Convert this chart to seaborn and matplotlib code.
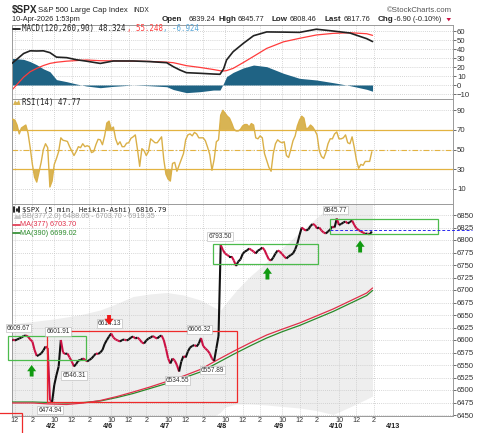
import matplotlib
matplotlib.use("Agg")
import matplotlib.pyplot as plt
import numpy as np
import seaborn as sns
from matplotlib.collections import LineCollection
from matplotlib.patches import Rectangle, Polygon
from matplotlib.lines import Line2D

days = ["4/1", "4/2", "4/6", "4/7", "4/8", "4/9", "4/10", "4/13"]
BARS = 78       # 5-min bars in one session
STEP = 3        # one sample = 3 bars (15 min)
first_slot = [8, 0, 0, 0, 0, 0, 0]   # 4/1 data starts 11:30

price_0401 = [6597, 6601, 6599, 6601, 6603, 6605, 6608, 6609, 6607, 6601, 6597, 6580,
              6568, 6570, 6573, 6579, 6587, 6584]
price_0402 = [6480, 6476, 6510, 6530, 6547, 6600, 6575, 6572, 6573, 6565, 6557, 6547, 6552,
              6559, 6560, 6563, 6561, 6557, 6560, 6563, 6568, 6573, 6572, 6575, 6580, 6592]
price_0406 = [6600, 6607, 6613, 6605, 6601, 6599, 6597, 6600, 6601, 6599, 6601, 6605, 6607,
              6603, 6605, 6601, 6595, 6593, 6599, 6603, 6605, 6608, 6605, 6603, 6607, 6609]
price_0407 = [6600, 6583, 6563, 6553, 6563, 6559, 6550, 6537, 6557, 6568, 6565, 6577, 6585,
              6588, 6590, 6587, 6593, 6604, 6588, 6583, 6579, 6573, 6563, 6558, 6583, 6608]
price_0408 = [6790, 6780, 6773, 6770, 6767, 6767, 6759, 6748, 6757, 6761, 6772, 6777, 6779,
              6783, 6780, 6777, 6773, 6779, 6781, 6785, 6780, 6770, 6761, 6759, 6765, 6773]
price_0409 = [6779, 6777, 6772, 6767, 6763, 6767, 6770, 6773, 6781, 6793, 6810, 6825, 6821,
              6819, 6821, 6828, 6832, 6830, 6823, 6825, 6819, 6815, 6813, 6817, 6821, 6827]
price_0410 = [6825, 6843, 6830, 6832, 6835, 6837, 6833, 6836, 6839, 6830, 6823, 6820, 6817,
              6815, 6812, 6813, 6811, 6817]

rsi_0401 = [79, 81, 80, 75, 66, 72, 73.5, 75, 67, 52, 35, 22, 17, 27, 37, 50, 56, 52]
rsi_0402 = [12, 18, 35, 41, 48, 62, 59.5, 59, 58.3, 53, 48.5, 44, 48, 53, 52, 56, 53, 54, 53,
            47, 48, 55, 60.5, 60, 55, 64]
rsi_0406 = [77, 79, 71, 73, 61, 55, 58, 53, 53, 56.5, 57, 61.5, 63, 65, 50, 33, 51, 49, 44,
            48, 61, 59, 57, 57, 60, 63]
rsi_0407 = [40, 25, 20, 18, 36, 37, 28, 34, 40, 46, 60, 65, 66, 64, 67.5, 66, 62, 62, 62, 59,
            52.5, 45, 29, 40, 58, 60]
rsi_0408 = [85, 90, 87, 84, 82, 77, 71, 69, 69, 70.5, 74, 75.5, 75.5, 73, 76.5, 75, 62, 61,
            64, 62, 46, 39, 32, 28, 46, 56]
rsi_0409 = [60, 58, 57, 58, 44, 42, 50, 59, 64, 74, 80, 84, 82, 71, 72, 75, 73, 69.5, 65, 49,
            43, 41, 47, 56, 61, 61]
rsi_0410 = [66, 68, 61, 61, 62, 65, 57, 56, 63, 52, 39, 31, 35, 34, 38, 38, 38, 47.8]

# moving averages / bollinger band (bar number, value)
ma_bar = [25, 55, 78, 101, 124, 147, 170, 192, 215, 238, 261, 284, 306, 329, 352, 375, 397,
          420, 443, 466, 489, 512, 520]
ma_377 = [6474, 6474, 6472, 6471, 6474, 6479, 6487, 6496, 6506, 6517, 6528, 6541, 6559, 6577,
          6594, 6610, 6622, 6634, 6648, 6662, 6678, 6694, 6704]
ma_390 = [6476, 6476, 6475, 6474, 6475, 6478, 6485, 6493, 6503, 6513, 6524, 6536, 6553, 6571,
          6588, 6604, 6617, 6629, 6643, 6657, 6673, 6689, 6699]
bb_bar = [25, 55, 78, 101, 124, 147, 170, 192, 215, 238, 261, 284, 306, 312, 318, 334, 352,
          375, 397, 420, 443, 466, 489, 512, 520]
bb_upper = [6632, 6637, 6641, 6646, 6652, 6660, 6673, 6687, 6692, 6695, 6690, 6680, 6663, 6660,
            6672, 6700, 6727, 6756, 6785, 6815, 6844, 6873, 6895, 6914, 6919]
bb_lower = [6400, 6398, 6396, 6394, 6394, 6396, 6400, 6405, 6412, 6420, 6428, 6436, 6450, 6456,
            6466, 6472, 6472, 6470, 6467, 6464, 6459, 6451, 6466, 6482, 6488]

macd_bar = [26, 42, 51, 60, 69, 78, 87, 101, 115, 128, 147, 165, 192, 215, 238, 247, 256, 265,
            284, 302, 311, 316, 320, 329, 343, 357, 375, 398, 420, 443, 466, 489, 512, 520]
macd = [24, 35, 38, 37.8, 38, 36, 31, 30.4, 28, 26.5, 24, 26.7, 26.7, 26, 24.8, 20.4, 16.7,
        13.7, 13, 12.2, 11.9, 18, 27.8, 37, 46.3, 54.8, 59, 58.8, 58.5, 62, 60, 57.8, 51.5, 48.3]
signal = [-5.6, 8.7, 14.8, 18.5, 21.6, 24, 25.3, 26.5, 27.2, 27.8, 27, 26.8, 26.5, 26.2, 25.4,
          24.8, 23.2, 21.5, 19.5, 17.2, 15.9, 15.6, 16, 18.5, 25, 31.8, 40.7, 48, 51.9, 55.6,
          57.4, 58.1, 57, 55.2]
hist = [29.6, 28.5, 26, 22.5, 18, 14.8, 6, 3.7, 1, -1.1, -3, -1.5, 0, -0.8, -1.9, -5, -6.8,
        -8.5, -7.4, -5.6, -5.6, 2, 9.3, 14, 19, 22.2, 20.4, 13, 7.4, 5.6, 2.6, -0.7, -4.8, -6.9]

# annotations drawn on the chart
price_labels = ["6609.67", "6601.91", "6614.13", "6546.31", "6474.94", "6534.55", "6606.32",
                "6557.89", "6793.50", "6845.77"]
label_bar = [35, 89, 160, 111, 78, 253, 283, 301, 311, 469]
label_at = [6624, 6617, 6633, 6529, 6460, 6519, 6621, 6540, 6807, 6860]
green_boxes = [(21, 127.5, 6561, 6608), (302, 445.6, 6752, 6793), (461.7, 610, 6813, 6842)]
red_box = (73.6, 333.9, 6475.5, 6619)
up_arrows = [(53, 6527, 6550), (376, 6721, 6745), (503, 6775, 6799)]
down_arrow = (159, 6650, 6630)
level_line = (461.7, 656, 6821)

quote_labels = ["Open", "High", "Low", "Last", "Chg"]
quote_values = ["6839.24", "6845.77", "6808.46", "6817.76", "-6.90 (-0.10%)"]


def day_bars(day, n, first=0):
    return [BARS * day + STEP * (first + i) for i in range(n)]


price_days = [price_0401, price_0402, price_0406, price_0407, price_0408, price_0409, price_0410]
rsi_days = [rsi_0401, rsi_0402, rsi_0406, rsi_0407, rsi_0408, rsi_0409, rsi_0410]
px, pv, rv = [], [], []
for k, (p, r) in enumerate(zip(price_days, rsi_days)):
    px += day_bars(k, len(p), first_slot[k])
    pv += p
    rv += r
px, pv, rv = np.array(px, float), np.array(pv, float), np.array(rv, float)

# ---- figure ----
sns.set_style("white")
plt.rcParams["font.family"] = ["Liberation Sans", "DejaVu Sans"]
NARROW = ["Liberation Sans Narrow", "Liberation Sans", "DejaVu Sans"]
MONO = ["DejaVu Sans Mono", "DejaVu Sans"]

W, H = 480, 433
fig = plt.figure(figsize=(4.8, 4.33), dpi=100)


def fx(x):
    return x / W


def fy(y):
    return 1 - y / H


L, R = 11.5, 452.7
ax_macd = fig.add_axes([fx(L), fy(98.5), (R - L) / W, 73.5 / H])
ax_rsi = fig.add_axes([fx(L), fy(204), (R - L) / W, 105.5 / H])
ax = fig.add_axes([fx(L), fy(416), (R - L) / W, 212 / H])

XLIM = (25.4, 629.8)
tick_bars, tick_text = [], []
for k in range(7):
    for off, lab in [(6, "10"), (30, "12"), (54, "2")]:
        b = BARS * k + off
        if b > XLIM[0]:
            tick_bars.append(b)
            tick_text.append(lab)

for a in (ax_macd, ax_rsi, ax):
    a.set_xlim(*XLIM)
    a.set_xticks(tick_bars)
    a.set_xticklabels([])
    a.yaxis.tick_right()
    a.tick_params(axis="x", length=0)
    a.tick_params(axis="y", labelsize=5.6, length=2, width=0.5, pad=1, colors="#333333")
    a.set_axisbelow(True)
    a.grid(True, color="#c8c8c8", linewidth=0.6, linestyle=(0, (1, 1.5)))
    for s in a.spines.values():
        s.set_color("#9a9a9a")
        s.set_linewidth(0.7)
    a.set_facecolor("white")

# ---- MACD panel ----
ax_macd.fill_between(macd_bar, 0, hist, color="#1f6384", lw=0, zorder=1)
sns.lineplot(x=macd_bar, y=signal, color="#ff3b3b", linewidth=0.9, ax=ax_macd,
             estimator=None, sort=False, legend=False, zorder=2)
sns.lineplot(x=macd_bar, y=macd, color="#222222", linewidth=1.2, ax=ax_macd,
             estimator=None, sort=False, legend=False, zorder=3)
ax_macd.set_ylim(-15, 66.7)
ax_macd.set_yticks(range(-10, 61, 10))
ax_macd.set_xlabel("")
ax_macd.set_ylabel("")

fig.add_artist(Line2D([fx(13), fx(20)], [fy(29), fy(29)], color="black", lw=1.2))
fig.text(fx(22), fy(29), "MACD(120,260,90) 48.324", family=MONO, fontsize=5.45, va="center")
fig.text(fx(126.7), fy(29), ", 55.248", family=MONO, fontsize=5.45, va="center", color="#ff3b3b")
fig.text(fx(163.2), fy(29), ", -6.924", family=MONO, fontsize=5.45, va="center", color="#5aa8d8")

# ---- RSI panel ----
ax_rsi.fill_between(px, rv, 70, where=rv > 70, interpolate=True, color="#d8b454", lw=0, zorder=1)
ax_rsi.fill_between(px, rv, 30, where=rv < 30, interpolate=True, color="#d8b454", lw=0, zorder=1)
ax_rsi.axhline(70, color="#e3b341", lw=0.9, zorder=1.5)
ax_rsi.axhline(30, color="#e3b341", lw=0.9, zorder=1.5)
ax_rsi.axhline(50, color="#e3b341", lw=0.8, ls=(0, (5, 2, 1, 2)), zorder=1.5)
ax_rsi.plot(px, rv, color="#dab048", linewidth=1.0, zorder=4)
ax_rsi.set_ylim(-5.3, 102)
ax_rsi.set_yticks([10, 30, 50, 70, 90])

fig.add_artist(Polygon([(fx(13), fy(105)), (fx(15), fy(100.5)), (fx(17), fy(102.5)),
                        (fx(19), fy(100)), (fx(20.5), fy(105))], closed=True,
                       color="#d8b454", lw=0))
fig.text(fx(22), fy(102.5), "RSI(14) 47.77", family=MONO, fontsize=5.45, va="center")

# ---- price panel ----
ax.fill_between(bb_bar, bb_lower, bb_upper, color="#eeeeee", lw=0, zorder=0.2)
sns.lineplot(x=ma_bar, y=ma_390, color="#2a8a2a", linewidth=0.9, ax=ax,
             estimator=None, sort=False, legend=False, zorder=3)
sns.lineplot(x=ma_bar, y=ma_377, color="#e0304a", linewidth=0.9, ax=ax,
             estimator=None, sort=False, legend=False, zorder=3)

pts = np.column_stack([px, pv])
segs = np.stack([pts[:-1], pts[1:]], axis=1)
seg_col = ["#111111" if b >= a else "#cc1144" for a, b in zip(pv[:-1], pv[1:])]
ax.add_collection(LineCollection(segs, colors=seg_col, linewidths=1.5, zorder=5))

ax.set_ylim(6448, 6872)
ax.set_yticks(range(6450, 6851, 25))
ax.set_xlabel("")
ax.set_ylabel("")

for x0, x1, y0, y1 in green_boxes:
    ax.add_patch(Rectangle((x0, y0), x1 - x0, y1 - y0, fill=False, ec="#4cbb4c", lw=0.9,
                           zorder=6, clip_on=False))
x0, x1, y0, y1 = red_box
ax.add_patch(Rectangle((x0, y0), x1 - x0, y1 - y0, fill=False, ec="#ee2a2a", lw=0.9, zorder=6))
ax.plot([level_line[0], level_line[1]], [level_line[2]] * 2, color="#2a2aee", lw=0.7,
        ls=(0, (3, 2)), zorder=6, clip_on=False)

for text, b, v in zip(price_labels, label_bar, label_at):
    ax.text(b, v, text, family=NARROW, fontsize=4.7, ha="center", va="center", zorder=7,
            color="#333333",
            bbox=dict(boxstyle="square,pad=0.15", fc="white", ec="#b5b5b5", lw=0.4))

arrow_style = "simple,head_width=0.65,head_length=0.45,tail_width=0.28"
for b, tail, tip in up_arrows:
    ax.annotate("", xy=(b, tip), xytext=(b, tail), zorder=8,
                arrowprops=dict(arrowstyle=arrow_style, fc="#119a11", ec="none",
                                shrinkA=0, shrinkB=0))
b, tail, tip = down_arrow
ax.annotate("", xy=(b, tip), xytext=(b, tail), zorder=8,
            arrowprops=dict(arrowstyle=arrow_style, fc="#ee1a1a", ec="none",
                            shrinkA=0, shrinkB=0))

# x tick labels and session dates
xt = ax.get_xaxis_transform()
for b, lab in zip(tick_bars, tick_text):
    ax.text(b, -0.0215, lab, transform=xt, family=NARROW, fontsize=5.2, ha="center",
            va="center", color="#333333", clip_on=False)
for k in range(1, len(days)):
    ax.text(BARS * k + 2, -0.05, days[k], transform=xt, family=NARROW, fontsize=5.2,
            fontweight="bold", ha="center", va="center", color="#222222", clip_on=False)

# price panel legend
for x, top, bot in [(14, 207.5, 212), (16.5, 208.5, 211), (19, 207, 211.5)]:
    fig.add_artist(Line2D([fx(x), fx(x)], [fy(top), fy(bot)], color="black", lw=1.2))
fig.text(fx(21.5), fy(209.5), r"\$SPX (5 min, Heikin-Ashi) 6816.79", family=MONO,
         fontsize=5.2, va="center")
fig.add_artist(Polygon([(fx(14), fy(219)), (fx(16), fy(214.5)), (fx(18), fy(216.5)),
                        (fx(20), fy(214)), (fx(21), fy(219))], closed=True,
                       color="#c8c8c8", lw=0))
fig.text(fx(21.5), fy(216.7), "BB(377,2.0) 6488.05 - 6703.70 - 6919.35", fontsize=5.2,
         va="center", color="#a0a0a0")
fig.add_artist(Line2D([fx(13), fx(20)], [fy(224.8), fy(224.8)], color="#e0304a", lw=1.2))
fig.text(fx(20.5), fy(224.8), "MA(377) 6703.70", fontsize=5.2, va="center", color="#e0304a")
fig.add_artist(Line2D([fx(13), fx(20)], [fy(233.2), fy(233.2)], color="#2a8a2a", lw=1.2))
fig.text(fx(20.5), fy(233.2), "MA(390) 6699.02", fontsize=5.2, va="center", color="#2a8a2a")

# red marker box at the bottom-left corner
fig.add_artist(Rectangle((fx(-3), fy(440)), 24.7 / W, 27 / H, fill=False, ec="#ee2a2a",
                         lw=0.9, transform=fig.transFigure, clip_on=False))

# ---- header ----
fig.text(fx(12), fy(9.5), r"\$SPX", fontsize=7.2, fontweight="bold", va="center")
fig.text(fx(38), fy(10), "S&P 500 Large Cap Index", fontsize=5.6, va="center")
fig.text(fx(133), fy(10), "INDX", fontsize=4.8, va="center")
fig.text(fx(452), fy(10), "\u00a9StockCharts.com", fontsize=5.6, color="#555555", ha="right",
         va="center")
fig.text(fx(12), fy(19.3), "10-Apr-2026 1:53pm", fontsize=5.3, va="center")
for lab, lx, val, vx in zip(quote_labels, [161.7, 218.3, 271.7, 324.3, 377.7],
                            quote_values, [188.3, 237.7, 290, 344, 394.3]):
    fig.text(fx(lx), fy(19.3), lab, fontsize=5.8, fontweight="bold", va="center")
    fig.text(fx(vx), fy(19.3), val, fontsize=5.3, va="center")
fig.add_artist(Polygon([(fx(446.5), fy(18)), (fx(451), fy(18)), (fx(448.75), fy(21.3))],
                       closed=True, color="#cc1144", lw=0))

fig.savefig("out.png", dpi=100)
